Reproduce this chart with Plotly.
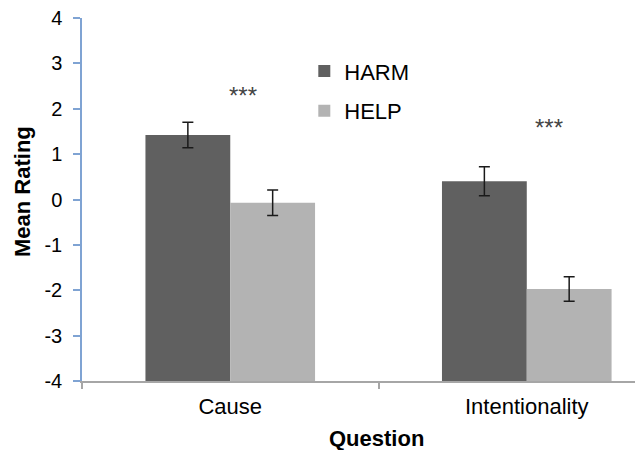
import plotly.graph_objects as go

categories = ["Cause", "Intentionality"]
harm_values = [1.42, 0.40]
harm_errors = [0.28, 0.32]
help_values = [-0.07, -1.97]
help_errors = [0.28, 0.27]
y_ticks = [-4, -3, -2, -1, 0, 1, 2, 3, 4]
y_tick_labels = ["-4", "-3", "-2", "-1", "0", "1", "2", "3", "4"]
sig_labels = ["***", "***"]
sig_x = [0.043, 1.074]
sig_y = [2.30, 1.59]

FONT = "Liberation Sans, Arial, sans-serif"
Y_MIN = y_ticks[0]

fig = go.Figure()
fig.add_trace(go.Bar(
    x=categories, y=[v - Y_MIN for v in harm_values], base=Y_MIN, name="HARM",
    marker=dict(color="#606060", line=dict(width=0)),
    error_y=dict(type="data", array=harm_errors, visible=True,
                 color="#1a1a1a", thickness=1.5, width=5.5),
    legendgroup="a",
))
fig.add_trace(go.Bar(
    x=categories, y=[v - Y_MIN for v in help_values], base=Y_MIN, name="HELP",
    marker=dict(color="#B3B3B3", line=dict(width=0)),
    error_y=dict(type="data", array=help_errors, visible=True,
                 color="#1a1a1a", thickness=1.5, width=5.5),
    legendgroup="b",
))

for lab, xx, yy in zip(sig_labels, sig_x, sig_y):
    fig.add_annotation(x=xx, y=yy, xref="x", yref="y", text=lab,
                       showarrow=False, font=dict(family=FONT, size=24, color="#444444"),
                       xanchor="center", yanchor="middle")

fig.add_annotation(x=-0.1076, y=0.522, xref="paper", yref="paper",
                   text="<b>Mean Rating</b>", textangle=-90, showarrow=False,
                   font=dict(family=FONT, size=22, color="black"),
                   xanchor="center", yanchor="middle")
fig.add_annotation(x=0.533, y=-0.158, xref="paper", yref="paper",
                   text="<b>Question</b>", showarrow=False,
                   font=dict(family=FONT, size=22, color="black"),
                   xanchor="center", yanchor="middle")

fig.update_layout(
    width=635, height=450,
    margin=dict(l=82, r=0, t=18, b=69, pad=0),
    paper_bgcolor="white", plot_bgcolor="white",
    barmode="group", bargap=0.428, bargroupgap=0,
    font=dict(family=FONT, size=20, color="black"),
    showlegend=True,
    legend=dict(x=0.402, y=0.911, xanchor="left", yanchor="top",
                bgcolor="rgba(0,0,0,0)", font=dict(family=FONT, size=22),
                traceorder="grouped", tracegroupgap=8, itemwidth=30),
    xaxis=dict(type="category", range=[-0.5, 1.365],
               showline=True, linecolor="#A6A6A6", linewidth=1.5,
               ticks="outside", tickson="boundaries", ticklen=6,
               tickcolor="#A6A6A6", tickwidth=1.5,
               showgrid=False, zeroline=False,
               tickfont=dict(family=FONT, size=22, color="black"),
               ticklabelstandoff=5),
    yaxis=dict(range=[Y_MIN, y_ticks[-1]], tickvals=y_ticks, ticktext=y_tick_labels,
               showline=True, linecolor="#7FA3D3", linewidth=1.5,
               ticks="outside", ticklen=7, tickcolor="#7FA3D3", tickwidth=1.5,
               showgrid=False, zeroline=False,
               tickfont=dict(family=FONT, size=20, color="black"),
               ticklabelstandoff=7),
)

fig.write_html("out.html", config={"displayModeBar": False},
               post_script="document.body.style.margin='0px';")
